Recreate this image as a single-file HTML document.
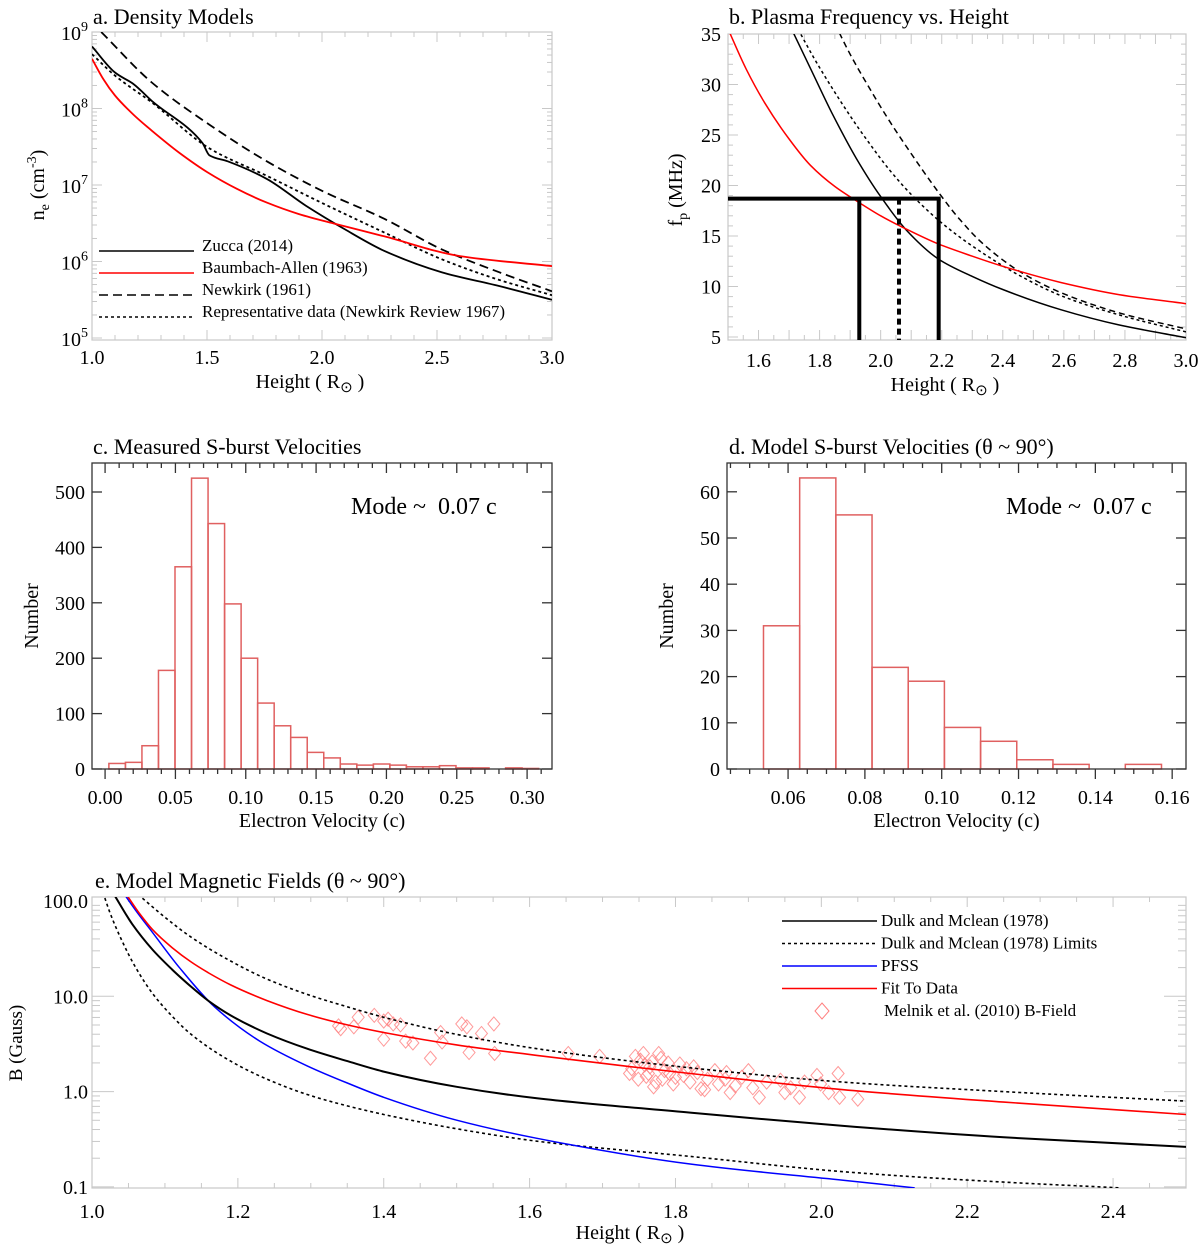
<!DOCTYPE html>
<html><head><meta charset="utf-8"><style>
html,body{margin:0;padding:0;background:#fff}
svg{display:block;font-family:"Liberation Serif",serif}
</style></head><body>
<svg id="fig" width="1200" height="1249" viewBox="0 0 1200 1249" xmlns="http://www.w3.org/2000/svg"></svg>
<script>
// ---------- Panel a data ----------
const aZuccaH=[1.0,1.10,1.18,1.26,1.48,1.51,1.59,1.76,1.93,2.10,2.27,2.52,2.77,3.0];
const aZuccaL=[8.81,8.47,8.32,8.10,7.55,7.39,7.31,7.08,6.73,6.42,6.14,5.86,5.68,5.50];
const aBAH=[1.0,1.05,1.10,1.18,1.26,1.38,1.50,1.63,1.76,1.90,2.06,2.27,2.60,3.0];
const aBAL=[8.65,8.38,8.17,7.92,7.71,7.42,7.17,6.95,6.77,6.62,6.49,6.33,6.07,5.94];
const aNewH=[1.04,1.26,1.51,1.76,2.01,2.27,2.52,2.77,3.0];
const aNewL=[9.0,8.34,7.79,7.31,6.91,6.56,6.16,5.86,5.61];
const aRepH=[1.0,1.10,1.26,1.51,1.76,2.01,2.27,2.52,2.77,3.0];
const aRepL=[8.71,8.43,8.08,7.48,7.12,6.75,6.38,6.03,5.76,5.56];
const aXTicks=[1.0,1.5,2.0,2.5,3.0];
const aXLabels=["1.0","1.5","2.0","2.5","3.0"];
const aYTicks=[5,6,7,8,9];
const aLegend=["Zucca (2014)","Baumbach-Allen (1963)","Newkirk (1961)","Representative data (Newkirk Review 1967)"];
// ---------- Panel b data ----------
const bRedH=[1.5,1.56,1.62,1.70,1.77,1.85,1.925,2.0,2.076,2.19,2.30,2.40,2.59,2.78,3.0];
const bRedF=[35.5,31.5,28.2,24.6,22.0,19.9,18.4,17.0,15.8,14.2,13.0,12.0,10.4,9.2,8.3];
const bSolH=[1.70,1.77,1.84,1.92,2.0,2.09,2.19,2.30,2.40,2.59,2.78,3.0];
const bSolF=[36.0,31.6,27.2,22.7,18.9,15.4,12.7,11.0,9.7,7.7,6.2,4.93];
const bDotH=[1.72,1.78,1.84,1.90,1.96,2.03,2.11,2.22,2.34,2.46,2.59,2.78,3.0];
const bDotF=[36,32.7,29.7,26.9,24.3,21.5,18.8,15.8,13.2,11.0,9.1,7.2,5.5];
const bDashH=[1.85,1.90,1.96,2.02,2.09,2.19,2.26,2.34,2.46,2.59,2.78,3.0];
const bDashF=[36,33.0,29.8,26.8,23.6,19.3,16.6,14.1,11.4,9.4,7.4,5.8];
const bFreq=18.7;
const bHeights=[1.93,2.06,2.19];
const bXTicks=[1.6,1.8,2.0,2.2,2.4,2.6,2.8,3.0];
const bYTicks=[5,10,15,20,25,30,35];
// ---------- Panel c data ----------
const cStart=0.0027, cWidth=0.01175;
const cCounts=[10,12,42,178,365,525,443,298,200,119,78,57,30,20,9,7,9,7,4,4,6,2,2,0,2,1];
const cXTicks=[0.00,0.05,0.10,0.15,0.20,0.25,0.30];
const cYTicks=[0,100,200,300,400,500];
// ---------- Panel d data ----------
const dStart=0.0536, dWidth=0.00942;
const dCounts=[31,63,55,22,19,9,6,2,1,0,1];
const dXTicks=[0.06,0.08,0.10,0.12,0.14,0.16];
const dYTicks=[0,10,20,30,40,50,60];
// ---------- Panel e data ----------
const eDulkH=[1.03,1.055,1.083,1.11,1.136,1.16,1.19,1.24,1.295,1.35,1.40,1.50,1.61,1.82,2.03,2.25,2.50];
const eDulkL=[2.07,1.76,1.49,1.28,1.10,0.95,0.80,0.61,0.45,0.32,0.21,0.05,-0.07,-0.22,-0.36,-0.48,-0.58];
const eFitH=[1.047,1.065,1.083,1.11,1.136,1.16,1.19,1.24,1.295,1.35,1.40,1.50,1.61,1.82,2.03,2.25,2.5];
const eFitL=[2.07,1.87,1.70,1.51,1.36,1.245,1.12,0.955,0.81,0.70,0.62,0.49,0.38,0.19,0.02,-0.11,-0.24];
const ePfssH=[1.04,1.06,1.083,1.12,1.168,1.23,1.295,1.35,1.40,1.50,1.61,1.82,2.03,2.128];
const ePfssL=[2.12,1.90,1.67,1.30,0.89,0.53,0.27,0.09,-0.06,-0.30,-0.49,-0.76,-0.93,-1.01];
const eUpH=[1.063,1.10,1.136,1.19,1.24,1.295,1.35,1.40,1.50,1.61,1.82,2.03,2.25,2.5];
const eUpL=[2.07,1.83,1.62,1.37,1.18,1.02,0.89,0.78,0.60,0.45,0.25,0.10,0.0,-0.10];
const eLoH=[1.015,1.025,1.04,1.06,1.083,1.11,1.136,1.19,1.24,1.295,1.35,1.40,1.50,1.61,1.82,2.03,2.25,2.41];
const eLoL=[2.09,1.87,1.60,1.30,1.03,0.79,0.60,0.32,0.13,-0.03,-0.15,-0.24,-0.39,-0.52,-0.68,-0.84,-0.95,-1.01];
const eScatH=[1.338,1.341,1.359,1.365,1.387,1.40,1.406,1.413,1.423,1.40,1.43,1.44,1.464,1.478,1.48,1.507,1.514,1.517,1.534,1.551,1.552,1.653,1.696,
1.74,1.745,1.756,1.758,1.768,1.777,1.737,1.749,1.763,1.773,1.782,1.792,1.797,1.806,1.811,1.82,1.83,1.835,1.844,1.854,1.859,1.868,1.875,1.882,1.891,1.90,1.906,1.915,1.925,1.944,1.95,1.958,1.97,1.977,1.994,1.999,2.01,2.023,2.025,2.05,
1.752,1.765,1.785,1.80,1.815,1.77,1.79,1.825,1.76,1.84,1.87,1.78];
const eScatL=[0.69,0.66,0.68,0.78,0.80,0.74,0.76,0.71,0.70,0.55,0.53,0.51,0.35,0.62,0.52,0.71,0.68,0.41,0.61,0.71,0.40,0.40,0.37,
0.24,0.37,0.40,0.28,0.31,0.40,0.19,0.13,0.19,0.10,0.13,0.19,0.08,0.29,0.17,0.10,0.20,0.03,0.13,0.22,0.08,0.13,-0.01,0.06,0.15,0.22,0.04,-0.06,0.10,0.12,-0.01,0.04,-0.06,0.10,0.17,0.08,-0.01,0.19,-0.06,-0.08,
0.33,0.26,0.22,0.15,0.24,0.05,0.30,0.26,0.16,0.02,0.20,0.35];
const eXTicks=[1.0,1.2,1.4,1.6,1.8,2.0,2.2,2.4];
const eYTicks=[2,1,0,-1];
const eYLabels=["100.0","10.0","1.0","0.1"];
const eLegend=["Dulk and Mclean (1978)","Dulk and Mclean (1978) Limits","PFSS","Fit To Data","Melnik et al. (2010) B-Field"];

// ---------- helpers ----------
const NS="http://www.w3.org/2000/svg";
const svg=document.getElementById('fig');
function mk(tag,attrs,parent){const e=document.createElementNS(NS,tag);for(const k in attrs)e.setAttribute(k,attrs[k]);(parent||svg).appendChild(e);return e;}
function txt(s,x,y,size,anchor,parent,extra){const t=mk('text',Object.assign({x:x,y:y,'font-size':size,'text-anchor':anchor||'start',fill:'#000'},extra||{}),parent);t.textContent=s;return t;}
function smoothPath(pts){
  const n=pts.length;const dx=[],s=[];
  for(let i=0;i<n-1;i++){dx[i]=pts[i+1][0]-pts[i][0];s[i]=(pts[i+1][1]-pts[i][1])/dx[i];}
  const m=[];m[0]=s[0];m[n-1]=s[n-2];
  for(let i=1;i<n-1;i++){if(s[i-1]*s[i]<=0)m[i]=0;else{const w1=2*dx[i]+dx[i-1],w2=dx[i]+2*dx[i-1];m[i]=(w1+w2)/(w1/s[i-1]+w2/s[i]);}}
  let d='M'+pts[0][0].toFixed(1)+','+pts[0][1].toFixed(1);
  for(let i=0;i<n-1;i++){const h=dx[i]/3;d+=' C'+(pts[i][0]+h).toFixed(1)+','+(pts[i][1]+m[i]*h).toFixed(1)+' '+(pts[i+1][0]-h).toFixed(1)+','+(pts[i+1][1]-m[i+1]*h).toFixed(1)+' '+pts[i+1][0].toFixed(1)+','+pts[i+1][1].toFixed(1);}
  return d;}
function clipRect(id,x,y,w,h){const cp=mk('clipPath',{id:id});mk('rect',{x:x,y:y,width:w,height:h},cp);}

// ================= Panel a =================
const A={x0:92,x1:552,y0:32,y1:340,hmin:1,hmax:3,ltop:9};
function ax(h){return A.x0+(h-A.hmin)/(A.hmax-A.hmin)*(A.x1-A.x0);}
function ay(l){return A.y0+(A.ltop-l)*76.5;}
clipRect('clipA',A.x0,A.y0,A.x1-A.x0,A.y1-A.y0);
const gA=mk('g',{});


txt('a. Density Models',93,24,22,'start',gA);
mk('rect',{x:A.x0,y:A.y0,width:A.x1-A.x0,height:A.y1-A.y0,fill:'none',stroke:'#c8c8c8','stroke-width':1.2},gA);
for(let v=1.0;v<=3.001;v+=0.1){const x=ax(v);const L=(Math.abs((v*2)-Math.round(v*2))<1e-6)?10:5;mk('line',{x1:x,y1:A.y1,x2:x,y2:A.y1-L,stroke:'#c8c8c8'},gA);mk('line',{x1:x,y1:A.y0,x2:x,y2:A.y0+L,stroke:'#c8c8c8'},gA);}
for(let d=4;d<=8;d++){for(let m=1;m<10;m++){const l=d+Math.log10(m);if(l<4.97||l>9)continue;const y=ay(l);const L=m===1?10:5;mk('line',{x1:A.x0,y1:y,x2:A.x0+L,y2:y,stroke:'#c8c8c8'},gA);mk('line',{x1:A.x1,y1:y,x2:A.x1-L,y2:y,stroke:'#c8c8c8'},gA);}}
aXTicks.forEach((v,i)=>{const t=txt(aXLabels[i],ax(v),364,20,'middle',gA);});
aYTicks.forEach(v=>{const t=txt('',88,ay(v)+8,20,'end',gA);const a=mk('tspan',{},t);a.textContent='10';const b=mk('tspan',{dy:-9,'font-size':14},t);b.textContent=String(v);});
{const t=txt('',0,0,20,'middle',gA,{transform:'translate(44,185) rotate(-90)'});const s1=mk('tspan',{},t);s1.textContent='n';const s2=mk('tspan',{dy:5,'font-size':14},t);s2.textContent='e';const s3=mk('tspan',{dy:-5},t);s3.textContent=' (cm';const s4=mk('tspan',{dy:-8,'font-size':14},t);s4.textContent='-3';const s5=mk('tspan',{dy:8},t);s5.textContent=')';}
{const t=txt('Height ( R',310,388,20,'middle',gA);const s=mk('tspan',{dy:4,'font-size':15},t);s.textContent='⊙';const s2=mk('tspan',{dy:-4},t);s2.textContent=' )';}
function aLine(H,L,stroke,dash,w,name){const pts=H.map((h,i)=>[ax(h),ay(L[i])]);const p=mk('path',{d:smoothPath(pts),fill:'none',stroke:stroke,'stroke-width':w,'stroke-dasharray':dash||'none','clip-path':'url(#clipA)'},gA);}
aLine(aNewH,aNewL,'#000','9,5',1.8,'newkirk-line');
aLine(aRepH,aRepL,'#000','3,3',1.8,'representative-data-line');
aLine(aZuccaH,aZuccaL,'#000',null,1.8,'zucca-line');
aLine(aBAH,aBAL,'#f00',null,1.8,'baumbach-allen-line');
const aLegStyles=[['#000',null],['#f00',null],['#000','9,5'],['#000','3,3']];
aLegend.forEach((s,i)=>{const y=251+i*22;const g=mk('g',{},gA);mk('line',{x1:99,y1:y,x2:194,y2:y,stroke:aLegStyles[i][0],'stroke-width':1.5,'stroke-dasharray':aLegStyles[i][1]||'none'},g);txt(s,202,y,17,'start',g);});

// ================= Panel b =================
const B={x0:728,x1:1186,y0:34,y1:340,hmin:1.5,hmax:3};
function bx(h){return B.x0+(h-B.hmin)/(B.hmax-B.hmin)*(B.x1-B.x0);}
function by(f){return 34+(35-f)*10.1;}
clipRect('clipB',B.x0,B.y0,B.x1-B.x0,B.y1-B.y0);
const gB=mk('g',{});


txt('b. Plasma Frequency vs. Height',729,24,22,'start',gB);
mk('rect',{x:B.x0,y:B.y0,width:B.x1-B.x0,height:B.y1-B.y0,fill:'none',stroke:'#c8c8c8','stroke-width':1.2},gB);
for(let k=0;k<=30;k++){const v=1.5+k*0.05;const x=bx(v);const L=(k%2===0&&k>0)?10:5;mk('line',{x1:x,y1:B.y1,x2:x,y2:B.y1-L,stroke:'#c8c8c8'},gB);mk('line',{x1:x,y1:B.y0,x2:x,y2:B.y0+L,stroke:'#c8c8c8'},gB);}
for(let f=5;f<=35;f++){const y=by(f);const L=f%5===0?10:5;mk('line',{x1:B.x0,y1:y,x2:B.x0+L,y2:y,stroke:'#c8c8c8'},gB);mk('line',{x1:B.x1,y1:y,x2:B.x1-L,y2:y,stroke:'#c8c8c8'},gB);}
bXTicks.forEach(v=>{const t=txt(v.toFixed(1),bx(v),367,20,'middle',gB);});
bYTicks.forEach(v=>{const t=txt(String(v),721,by(v)+7,20,'end',gB);});
{const t=txt('',0,0,20,'middle',gB,{transform:'translate(682,190) rotate(-90)'});const s1=mk('tspan',{},t);s1.textContent='f';const s2=mk('tspan',{dy:5,'font-size':14},t);s2.textContent='p';const s3=mk('tspan',{dy:-5},t);s3.textContent=' (MHz)';}
{const t=txt('Height ( R',945,391,20,'middle',gB);const s=mk('tspan',{dy:4,'font-size':15},t);s.textContent='⊙';const s2=mk('tspan',{dy:-4},t);s2.textContent=' )';}
function bLine(H,F,stroke,dash,w,name){const pts=H.map((h,i)=>[bx(h),by(F[i])]);const p=mk('path',{d:smoothPath(pts),fill:'none',stroke:stroke,'stroke-width':w,'stroke-dasharray':dash||'none','clip-path':'url(#clipB)'},gB);}
bLine(bDashH,bDashF,'#000','6,4',1.5,'newkirk-frequency-line');
bLine(bDotH,bDotF,'#000','3,3',1.5,'representative-frequency-line');
bLine(bSolH,bSolF,'#000',null,1.5,'zucca-frequency-line');
bLine(bRedH,bRedF,'#f00',null,1.5,'baumbach-allen-frequency-line');
{const l=mk('line',{x1:B.x0,y1:by(bFreq),x2:bx(bHeights[2])+2,y2:by(bFreq),stroke:'#000','stroke-width':4},gB);}
bHeights.forEach((h,i)=>{const l=mk('line',{x1:bx(h),y1:by(bFreq),x2:bx(h),y2:B.y1,stroke:'#000','stroke-width':4,'stroke-dasharray':i===1?'6,4':'none'},gB);});

// ================= Histogram helper =================
function histogram(cfg){
  const g=mk('g',{});
  
  
  const X=v=>cfg.x0+(v-cfg.vmin)/(cfg.vmax-cfg.vmin)*(cfg.x1-cfg.x0);
  const Y=n=>cfg.yZero-n*cfg.ppu;
  txt(cfg.title,cfg.titleX,454,22,'start',g);
  cfg.counts.forEach((n,i)=>{const a=cfg.start+i*cfg.width;const r=mk('rect',{x:X(a),y:Y(n),width:X(a+cfg.width)-X(a),height:Math.max(0,cfg.yZero-Y(n)),fill:'none',stroke:'#e06060','stroke-width':1.5},g);});
  mk('rect',{x:cfg.x0,y:cfg.y0,width:cfg.x1-cfg.x0,height:cfg.yZero-cfg.y0,fill:'none',stroke:'#333','stroke-width':1.3},g);
  for(let v=cfg.minorStart;v<=cfg.vmax+1e-9;v+=cfg.minor){const x=X(v);if(x<cfg.x0||x>cfg.x1)continue;const major=cfg.xticks.some(t=>Math.abs(t-v)<1e-6);const L=major?10:5;mk('line',{x1:x,y1:cfg.yZero,x2:x,y2:cfg.yZero+L,stroke:'#333','stroke-width':1.3},g);mk('line',{x1:x,y1:cfg.y0,x2:x,y2:cfg.y0+L,stroke:'#333','stroke-width':1.3},g);}
  cfg.xticks.forEach(v=>{const t=txt(v.toFixed(2),X(v),804,20,'middle',g);});
  cfg.yticks.forEach(v=>{const y=Y(v);mk('line',{x1:cfg.x0,y1:y,x2:cfg.x0+10,y2:y,stroke:'#333','stroke-width':1.3},g);mk('line',{x1:cfg.x1,y1:y,x2:cfg.x1-10,y2:y,stroke:'#333','stroke-width':1.3},g);const t=txt(String(v),cfg.x0-7,y+7,20,'end',g);});
  const yt=txt('Number',0,0,20,'middle',g,{transform:'translate('+(cfg.x0-54)+',616) rotate(-90)'});
  const xt=txt('Electron Velocity (c)',(cfg.x0+cfg.x1)/2,827,20,'middle',g);
  const m=txt('Mode ~\u00a0 0.07 c',cfg.modeX,514,24,'start',g);
}
histogram({name:'measured-velocities-panel',title:'c. Measured S-burst Velocities',titleX:93,x0:92,x1:552,y0:463,yZero:769,ppu:0.554,vmin:-0.0093,vmax:0.3177,start:cStart,width:cWidth,counts:cCounts,xticks:cXTicks,yticks:cYTicks,minor:0.01,minorStart:0,modeX:351});
histogram({name:'model-velocities-panel',title:'d. Model S-burst Velocities (θ ~ 90°)',titleX:729,x0:727,x1:1186,y0:463,yZero:769,ppu:4.62,vmin:0.0441,vmax:0.1636,start:dStart,width:dWidth,counts:dCounts,xticks:dXTicks,yticks:dYTicks,minor:0.005,minorStart:0.045,modeX:1006});

// ================= Panel e =================
const E={x0:92,x1:1186,y0:897,y1:1188,hmin:1.0,hmax:2.5};
function ex(h){return E.x0+(h-E.hmin)/(E.hmax-E.hmin)*(E.x1-E.x0);}
function ey(l){return 901+(2-l)*95.3;}
clipRect('clipE',E.x0,E.y0,E.x1-E.x0,E.y1-E.y0);
const gE=mk('g',{});


txt('e. Model Magnetic Fields (θ ~ 90°)',95,888,22,'start',gE);
mk('rect',{x:E.x0,y:E.y0,width:E.x1-E.x0,height:E.y1-E.y0,fill:'none',stroke:'#c8c8c8','stroke-width':1.2},gE);
for(let k=0;k<=30;k++){const v=1.0+k*0.05;const x=ex(v);const L=(k%4===0)?10:5;mk('line',{x1:x,y1:E.y1,x2:x,y2:E.y1-L,stroke:'#c8c8c8'},gE);mk('line',{x1:x,y1:E.y0,x2:x,y2:E.y0+L,stroke:'#c8c8c8'},gE);}
for(let d=-1;d<=1;d++){for(let m=1;m<10;m++){const l=d+Math.log10(m);const y=ey(l);const L=m===1?22:8;mk('line',{x1:E.x0,y1:y,x2:E.x0+L,y2:y,stroke:'#c8c8c8'},gE);mk('line',{x1:E.x1,y1:y,x2:E.x1-L,y2:y,stroke:'#c8c8c8'},gE);}}
eXTicks.forEach(v=>{const t=txt(v.toFixed(1),ex(v),1218,20,'middle',gE);});
eYTicks.forEach((v,i)=>{const t=txt(eYLabels[i],88,ey(v)+7,20,'end',gE);});
{const t=txt('B (Gauss)',0,0,19,'middle',gE,{transform:'translate(22,1043) rotate(-90)'});}
{const t=txt('Height ( R',630,1239,20,'middle',gE);const s=mk('tspan',{dy:4,'font-size':15},t);s.textContent='⊙';const s2=mk('tspan',{dy:-4},t);s2.textContent=' )';}
eScatH.forEach((h,i)=>{const x=ex(h),y=ey(eScatL[i]);const p=mk('path',{d:'M'+x+','+(y-7)+' L'+(x+6)+','+y+' L'+x+','+(y+7)+' L'+(x-6)+','+y+' Z',fill:'none',stroke:'#ff8080','stroke-width':1,'stroke-opacity':0.8,'clip-path':'url(#clipE)'},gE);});
function eLine(H,L,stroke,dash,w,name){const pts=H.map((h,i)=>[ex(h),ey(L[i])]);const p=mk('path',{d:smoothPath(pts),fill:'none',stroke:stroke,'stroke-width':w,'stroke-dasharray':dash||'none','clip-path':'url(#clipE)'},gE);}
eLine(eUpH,eUpL,'#000','3,3',1.6,'dulk-upper-limit-line');
eLine(eLoH,eLoL,'#000','3,3',1.6,'dulk-lower-limit-line');
eLine(ePfssH,ePfssL,'#00f',null,1.5,'pfss-line');
eLine(eDulkH,eDulkL,'#000',null,2,'dulk-mclean-line');
eLine(eFitH,eFitL,'#f00',null,1.6,'fit-to-data-line');
const eLegStyles=[['#000',null],['#000','3,3'],['#00f',null],['#f00',null]];
eLegend.forEach((s,i)=>{const y=921+i*22.5;const g=mk('g',{},gE);
  if(i<4){mk('line',{x1:782,y1:y,x2:877,y2:y,stroke:eLegStyles[i][0],'stroke-width':1.6,'stroke-dasharray':eLegStyles[i][1]||'none'},g);}
  else{mk('path',{d:'M822,'+(y-8)+' L829,'+y+' L822,'+(y+8)+' L815,'+y+' Z',fill:'none',stroke:'#ff8080','stroke-width':1},g);}
  txt(s,i<4?881:884,y+5,17,'start',g);});
</script>
</body></html>
